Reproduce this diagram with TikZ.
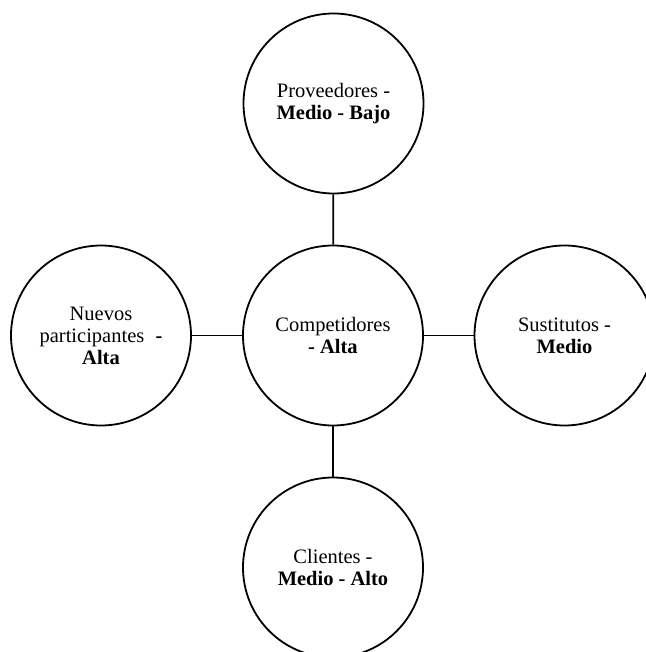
\documentclass[tikz,border=0pt]{standalone}
\usepackage{fontspec}
\setmainfont{Liberation Serif}
\begin{document}
\begin{tikzpicture}[x=1pt,y=1pt,
  ball/.style={draw=black, line width=1.8pt, circle, minimum size=180pt, inner sep=0pt,
    align=center, font=\fontsize{20.5}{22}\selectfont},
  link/.style={draw=black, line width=1.8pt}]
\useasboundingbox (0,0) rectangle (645,-652);
\node[ball] (top) at (333.5,-103.5) {Proveedores -\\\textbf{Medio - Bajo}};
\node[ball] (mid) at (333,-335.5) {Competidores\\\textbf{- Alta}};
\node[ball] (left) at (101,-335.5) {Nuevos\\participantes\hspace{0.3em} \textbf{-}\\\textbf{Alta}};
\node[ball] (right) at (564.5,-335.5) {Sustitutos -\\\textbf{Medio}};
\node[ball] (bot) at (333,-567.5) {Clientes -\\\textbf{Medio - Alto}};
\draw[link] (top) -- (mid);
\draw[link] (mid) -- (bot);
\draw[link] (left) -- (mid);
\draw[link] (mid) -- (right);
\end{tikzpicture}
\end{document}
